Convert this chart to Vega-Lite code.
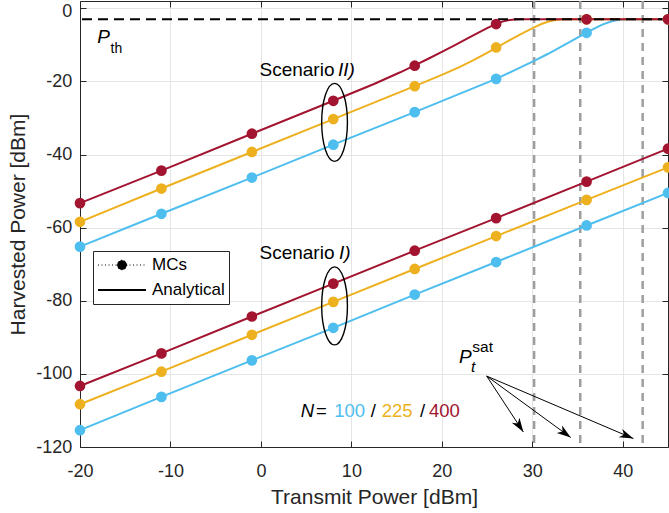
{
  "$schema": "https://vega.github.io/schema/vega-lite/v6.json",
  "width": 588,
  "height": 446,
  "autosize": {"type": "none"},
  "padding": {"left": 80, "top": 1, "right": 1, "bottom": 66},
  "background": "white",
  "config": {
    "font": "Liberation Sans",
    "view": {"stroke": null},
    "axis": {
      "domainColor": "#262626",
      "domainWidth": 1,
      "tickColor": "#262626",
      "tickSize": -6,
      "tickWidth": 1,
      "labelColor": "#262626",
      "labelFont": "Liberation Sans",
      "labelFontSize": 18,
      "labelFlush": false,
      "labelOverlap": false,
      "titleColor": "#262626",
      "titleFont": "Liberation Sans",
      "titleFontSize": 21,
      "titleFontWeight": "normal",
      "gridColor": "#e5e5e5",
      "gridWidth": 1
    }
  },
  "datasets": {
    "analytical": [
      {"scenario": "I", "N": 100, "pt": -20, "ph": -115.4}, {"scenario": "I", "N": 100, "pt": -11, "ph": -106.3},
      {"scenario": "I", "N": 100, "pt": -1, "ph": -96.3}, {"scenario": "I", "N": 100, "pt": 8, "ph": -87.4},
      {"scenario": "I", "N": 100, "pt": 17, "ph": -78.3}, {"scenario": "I", "N": 100, "pt": 26, "ph": -69.4},
      {"scenario": "I", "N": 100, "pt": 36, "ph": -59.4}, {"scenario": "I", "N": 100, "pt": 45, "ph": -50.5},
      {"scenario": "II", "N": 100, "pt": -20, "ph": -65.2}, {"scenario": "II", "N": 100, "pt": -11, "ph": -56.2},
      {"scenario": "II", "N": 100, "pt": -1, "ph": -46.3}, {"scenario": "II", "N": 100, "pt": 8, "ph": -37.3},
      {"scenario": "II", "N": 100, "pt": 17, "ph": -28.4}, {"scenario": "II", "N": 100, "pt": 26, "ph": -19.3},
      {"scenario": "II", "N": 100, "pt": 28, "ph": -17.0}, {"scenario": "II", "N": 100, "pt": 30.2, "ph": -14.4},
      {"scenario": "II", "N": 100, "pt": 31.7, "ph": -12.5}, {"scenario": "II", "N": 100, "pt": 33.4, "ph": -10.2},
      {"scenario": "II", "N": 100, "pt": 35, "ph": -8.0}, {"scenario": "II", "N": 100, "pt": 36, "ph": -6.65},
      {"scenario": "II", "N": 100, "pt": 37, "ph": -5.35}, {"scenario": "II", "N": 100, "pt": 37.8, "ph": -4.4},
      {"scenario": "II", "N": 100, "pt": 38.7, "ph": -3.6}, {"scenario": "II", "N": 100, "pt": 39.3, "ph": -3.25},
      {"scenario": "II", "N": 100, "pt": 40, "ph": -3.05}, {"scenario": "II", "N": 100, "pt": 40.7, "ph": -3.0},
      {"scenario": "II", "N": 100, "pt": 45, "ph": -3.0},
      {"scenario": "I", "N": 225, "pt": -20, "ph": -108.3}, {"scenario": "I", "N": 225, "pt": -11, "ph": -99.4},
      {"scenario": "I", "N": 225, "pt": -1, "ph": -89.3}, {"scenario": "I", "N": 225, "pt": 8, "ph": -80.3},
      {"scenario": "I", "N": 225, "pt": 17, "ph": -71.3}, {"scenario": "I", "N": 225, "pt": 26, "ph": -62.3},
      {"scenario": "I", "N": 225, "pt": 36, "ph": -52.4}, {"scenario": "I", "N": 225, "pt": 45, "ph": -43.5},
      {"scenario": "II", "N": 225, "pt": -20, "ph": -58.4}, {"scenario": "II", "N": 225, "pt": -11, "ph": -49.3},
      {"scenario": "II", "N": 225, "pt": -1, "ph": -39.3}, {"scenario": "II", "N": 225, "pt": 8, "ph": -30.3},
      {"scenario": "II", "N": 225, "pt": 17, "ph": -21.3}, {"scenario": "II", "N": 225, "pt": 20, "ph": -18.2},
      {"scenario": "II", "N": 225, "pt": 22, "ph": -16.0}, {"scenario": "II", "N": 225, "pt": 23.5, "ph": -14.2},
      {"scenario": "II", "N": 225, "pt": 25, "ph": -12.2}, {"scenario": "II", "N": 225, "pt": 26, "ph": -10.8},
      {"scenario": "II", "N": 225, "pt": 27.5, "ph": -8.7}, {"scenario": "II", "N": 225, "pt": 29, "ph": -6.7},
      {"scenario": "II", "N": 225, "pt": 30.2, "ph": -5.2}, {"scenario": "II", "N": 225, "pt": 31, "ph": -4.3},
      {"scenario": "II", "N": 225, "pt": 31.8, "ph": -3.6}, {"scenario": "II", "N": 225, "pt": 32.4, "ph": -3.25},
      {"scenario": "II", "N": 225, "pt": 33.1, "ph": -3.05}, {"scenario": "II", "N": 225, "pt": 33.8, "ph": -3.0},
      {"scenario": "II", "N": 225, "pt": 45, "ph": -3.0},
      {"scenario": "I", "N": 400, "pt": -20, "ph": -103.3}, {"scenario": "I", "N": 400, "pt": -11, "ph": -94.4},
      {"scenario": "I", "N": 400, "pt": -1, "ph": -84.3}, {"scenario": "I", "N": 400, "pt": 8, "ph": -75.3},
      {"scenario": "I", "N": 400, "pt": 17, "ph": -66.3}, {"scenario": "I", "N": 400, "pt": 26, "ph": -57.4},
      {"scenario": "I", "N": 400, "pt": 36, "ph": -47.4}, {"scenario": "I", "N": 400, "pt": 45, "ph": -38.4},
      {"scenario": "II", "N": 400, "pt": -20, "ph": -53.3}, {"scenario": "II", "N": 400, "pt": -11, "ph": -44.4},
      {"scenario": "II", "N": 400, "pt": -1, "ph": -34.3}, {"scenario": "II", "N": 400, "pt": 8, "ph": -25.3},
      {"scenario": "II", "N": 400, "pt": 12.5, "ph": -20.7}, {"scenario": "II", "N": 400, "pt": 15.4, "ph": -17.5},
      {"scenario": "II", "N": 400, "pt": 17, "ph": -15.6}, {"scenario": "II", "N": 400, "pt": 18.5, "ph": -13.8},
      {"scenario": "II", "N": 400, "pt": 20, "ph": -11.9}, {"scenario": "II", "N": 400, "pt": 21.5, "ph": -10.0},
      {"scenario": "II", "N": 400, "pt": 23, "ph": -8.0}, {"scenario": "II", "N": 400, "pt": 24, "ph": -6.7},
      {"scenario": "II", "N": 400, "pt": 25, "ph": -5.4}, {"scenario": "II", "N": 400, "pt": 26, "ph": -4.3},
      {"scenario": "II", "N": 400, "pt": 26.7, "ph": -3.65}, {"scenario": "II", "N": 400, "pt": 27.3, "ph": -3.25},
      {"scenario": "II", "N": 400, "pt": 28, "ph": -3.05}, {"scenario": "II", "N": 400, "pt": 28.7, "ph": -3.0},
      {"scenario": "II", "N": 400, "pt": 45, "ph": -3.0}
    ],
    "mc": [
      {"scenario": "I", "N": 100, "pt": -20, "ph": -115.4}, {"scenario": "I", "N": 100, "pt": -11, "ph": -106.3},
      {"scenario": "I", "N": 100, "pt": -1, "ph": -96.3}, {"scenario": "I", "N": 100, "pt": 8, "ph": -87.4},
      {"scenario": "I", "N": 100, "pt": 17, "ph": -78.3}, {"scenario": "I", "N": 100, "pt": 26, "ph": -69.4},
      {"scenario": "I", "N": 100, "pt": 36, "ph": -59.4}, {"scenario": "I", "N": 100, "pt": 45, "ph": -50.5},
      {"scenario": "II", "N": 100, "pt": -20, "ph": -65.2}, {"scenario": "II", "N": 100, "pt": -11, "ph": -56.2},
      {"scenario": "II", "N": 100, "pt": -1, "ph": -46.3}, {"scenario": "II", "N": 100, "pt": 8, "ph": -37.3},
      {"scenario": "II", "N": 100, "pt": 17, "ph": -28.4}, {"scenario": "II", "N": 100, "pt": 26, "ph": -19.3},
      {"scenario": "II", "N": 100, "pt": 36, "ph": -6.7}, {"scenario": "II", "N": 100, "pt": 45, "ph": -3.0},
      {"scenario": "I", "N": 225, "pt": -20, "ph": -108.3}, {"scenario": "I", "N": 225, "pt": -11, "ph": -99.4},
      {"scenario": "I", "N": 225, "pt": -1, "ph": -89.3}, {"scenario": "I", "N": 225, "pt": 8, "ph": -80.3},
      {"scenario": "I", "N": 225, "pt": 17, "ph": -71.3}, {"scenario": "I", "N": 225, "pt": 26, "ph": -62.3},
      {"scenario": "I", "N": 225, "pt": 36, "ph": -52.4}, {"scenario": "I", "N": 225, "pt": 45, "ph": -43.5},
      {"scenario": "II", "N": 225, "pt": -20, "ph": -58.4}, {"scenario": "II", "N": 225, "pt": -11, "ph": -49.3},
      {"scenario": "II", "N": 225, "pt": -1, "ph": -39.3}, {"scenario": "II", "N": 225, "pt": 8, "ph": -30.3},
      {"scenario": "II", "N": 225, "pt": 17, "ph": -21.3}, {"scenario": "II", "N": 225, "pt": 26, "ph": -10.7},
      {"scenario": "II", "N": 225, "pt": 36, "ph": -3.0}, {"scenario": "II", "N": 225, "pt": 45, "ph": -3.0},
      {"scenario": "I", "N": 400, "pt": -20, "ph": -103.3}, {"scenario": "I", "N": 400, "pt": -11, "ph": -94.4},
      {"scenario": "I", "N": 400, "pt": -1, "ph": -84.3}, {"scenario": "I", "N": 400, "pt": 8, "ph": -75.3},
      {"scenario": "I", "N": 400, "pt": 17, "ph": -66.3}, {"scenario": "I", "N": 400, "pt": 26, "ph": -57.4},
      {"scenario": "I", "N": 400, "pt": 36, "ph": -47.4}, {"scenario": "I", "N": 400, "pt": 45, "ph": -38.4},
      {"scenario": "II", "N": 400, "pt": -20, "ph": -53.3}, {"scenario": "II", "N": 400, "pt": -11, "ph": -44.4},
      {"scenario": "II", "N": 400, "pt": -1, "ph": -34.3}, {"scenario": "II", "N": 400, "pt": 8, "ph": -25.3},
      {"scenario": "II", "N": 400, "pt": 17, "ph": -15.7}, {"scenario": "II", "N": 400, "pt": 26, "ph": -4.3},
      {"scenario": "II", "N": 400, "pt": 36, "ph": -3.0}, {"scenario": "II", "N": 400, "pt": 45, "ph": -3.0}
    ],
    "psat": [
      {"N": 400, "psat": 30.2},
      {"N": 225, "psat": 35.3},
      {"N": 100, "psat": 42.2}
    ],
    "legendKinds": [
      {"kind": "MCs"},
      {"kind": "Analytical"}
    ]
  },
  "resolve": {"axis": {"x": "independent", "y": "independent"}},
  "layer": [
    {
      "data": {"name": "psat"},
      "mark": {"type": "rule", "color": "#9e9e9e", "strokeWidth": 2.5, "strokeDash": [8, 6]},
      "encoding": {"x": {"field": "psat", "type": "quantitative", "axis": null}}
    },
    {
      "data": {"name": "analytical"},
      "mark": {"type": "line", "strokeWidth": 2},
      "encoding": {
        "x": {
          "field": "pt", "type": "quantitative",
          "scale": {"domain": [-20, 45], "nice": false, "zero": false},
          "axis": {"orient": "bottom", "values": [-20, -10, 0, 10, 20, 30, 40], "grid": true,
                   "title": "Transmit Power [dBm]", "labelPadding": 21.5, "titlePadding": 6,
                   "labelExpr": "'' + datum.value"}
        },
        "y": {
          "field": "ph", "type": "quantitative",
          "scale": {"domain": [-120, 2], "nice": false, "zero": false},
          "axis": {"orient": "left", "values": [-120, -100, -80, -60, -40, -20, 0], "grid": true,
                   "title": "Harvested Power [dBm]", "labelPadding": 14.3, "titlePadding": 7,
                   "labelExpr": "'' + datum.value",
                   "labelOffset": {"expr": "datum.value === 0 ? 3 : 0"}}
        },
        "color": {
          "field": "N", "type": "nominal",
          "scale": {"domain": [100, 225, 400], "range": ["#4DBEEE", "#EDB120", "#A2142F"]},
          "legend": null
        },
        "detail": {"field": "scenario", "type": "nominal"}
      }
    },
    {
      "data": {"values": [{}]},
      "mark": {"type": "rule", "color": "#000000", "strokeWidth": 2, "strokeDash": [10, 6]},
      "encoding": {"y": {"datum": -3, "type": "quantitative", "axis": null}}
    },
    {
      "data": {"name": "mc"},
      "mark": {"type": "point", "filled": true, "size": 115, "opacity": 1},
      "encoding": {
        "x": {"field": "pt", "type": "quantitative",
              "axis": {"orient": "top", "values": [-20, -10, 0, 10, 20, 30, 40], "labels": false, "grid": false, "title": null}},
        "y": {"field": "ph", "type": "quantitative",
              "axis": {"orient": "right", "values": [-120, -100, -80, -60, -40, -20, 0], "labels": false, "grid": false, "title": null}},
        "color": {"field": "N", "type": "nominal", "legend": null}
      }
    },
    {
      "data": {"values": [{}]},
      "mark": {"type": "point", "shape": "M0,-1A0.33,1,0,1,1,0,1A0.33,1,0,1,1,0,-1Z", "size": 6084, "filled": false, "color": "#000000", "strokeWidth": 1.4, "opacity": 1},
      "encoding": {"x": {"datum": 8.14, "type": "quantitative", "axis": null}, "y": {"datum": -31.2, "type": "quantitative", "axis": null}}
    },
    {
      "data": {"values": [{}]},
      "mark": {"type": "point", "shape": "M0,-1A0.33,1,0,1,1,0,1A0.33,1,0,1,1,0,-1Z", "size": 6084, "filled": false, "color": "#000000", "strokeWidth": 1.4, "opacity": 1},
      "encoding": {"x": {"datum": 8.14, "type": "quantitative", "axis": null}, "y": {"datum": -81.4, "type": "quantitative", "axis": null}}
    },
    {
      "data": {"values": [{}]},
      "mark": {"type": "text", "text": "P", "fontStyle": "italic", "fontSize": 19, "align": "left", "baseline": "alphabetic", "color": "#000000"},
      "encoding": {"x": {"datum": -18.09, "type": "quantitative", "axis": null}, "y": {"datum": -9.5, "type": "quantitative", "axis": null}}
    },
    {
      "data": {"values": [{}]},
      "mark": {"type": "text", "text": "th", "fontSize": 14, "align": "left", "baseline": "alphabetic", "color": "#000000"},
      "encoding": {"x": {"datum": -16.63, "type": "quantitative", "axis": null}, "y": {"datum": -12.2, "type": "quantitative", "axis": null}}
    },
    {
      "data": {"values": [{}]},
      "mark": {"type": "text", "text": "Scenario", "fontSize": 19, "align": "left", "baseline": "alphabetic", "color": "#000000"},
      "encoding": {"x": {"datum": -0.16, "type": "quantitative", "axis": null}, "y": {"datum": -18.4, "type": "quantitative", "axis": null}}
    },
    {
      "data": {"values": [{}]},
      "mark": {"type": "text", "text": "II)", "fontStyle": "italic", "fontSize": 19, "align": "left", "baseline": "alphabetic", "color": "#000000"},
      "encoding": {"x": {"datum": 8.52, "type": "quantitative", "axis": null}, "y": {"datum": -18.4, "type": "quantitative", "axis": null}}
    },
    {
      "data": {"values": [{}]},
      "mark": {"type": "text", "text": "Scenario", "fontSize": 19, "align": "left", "baseline": "alphabetic", "color": "#000000"},
      "encoding": {"x": {"datum": -0.16, "type": "quantitative", "axis": null}, "y": {"datum": -68.6, "type": "quantitative", "axis": null}}
    },
    {
      "data": {"values": [{}]},
      "mark": {"type": "text", "text": "I)", "fontStyle": "italic", "fontSize": 19, "align": "left", "baseline": "alphabetic", "color": "#000000"},
      "encoding": {"x": {"datum": 8.63, "type": "quantitative", "axis": null}, "y": {"datum": -68.6, "type": "quantitative", "axis": null}}
    },
    {
      "data": {"values": [{}]},
      "mark": {"type": "text", "text": "N", "fontStyle": "italic", "fontSize": 18.5, "align": "left", "baseline": "alphabetic", "color": "#000000"},
      "encoding": {"x": {"datum": 4.39, "type": "quantitative", "axis": null}, "y": {"datum": -111.8, "type": "quantitative", "axis": null}}
    },
    {
      "data": {"values": [{}]},
      "mark": {"type": "text", "text": "=", "fontSize": 18.5, "align": "left", "baseline": "alphabetic", "color": "#000000"},
      "encoding": {"x": {"datum": 6.1, "type": "quantitative", "axis": null}, "y": {"datum": -111.8, "type": "quantitative", "axis": null}}
    },
    {
      "data": {"values": [{}]},
      "mark": {"type": "text", "text": "100", "fontSize": 18.5, "align": "left", "baseline": "alphabetic", "color": "#4DBEEE"},
      "encoding": {"x": {"datum": 8.11, "type": "quantitative", "axis": null}, "y": {"datum": -111.8, "type": "quantitative", "axis": null}}
    },
    {
      "data": {"values": [{}]},
      "mark": {"type": "text", "text": "/", "fontSize": 18.5, "align": "left", "baseline": "alphabetic", "color": "#000000"},
      "encoding": {"x": {"datum": 12.14, "type": "quantitative", "axis": null}, "y": {"datum": -111.8, "type": "quantitative", "axis": null}}
    },
    {
      "data": {"values": [{}]},
      "mark": {"type": "text", "text": "225", "fontSize": 18.5, "align": "left", "baseline": "alphabetic", "color": "#EDB120"},
      "encoding": {"x": {"datum": 13.35, "type": "quantitative", "axis": null}, "y": {"datum": -111.8, "type": "quantitative", "axis": null}}
    },
    {
      "data": {"values": [{}]},
      "mark": {"type": "text", "text": "/", "fontSize": 18.5, "align": "left", "baseline": "alphabetic", "color": "#000000"},
      "encoding": {"x": {"datum": 17.59, "type": "quantitative", "axis": null}, "y": {"datum": -111.8, "type": "quantitative", "axis": null}}
    },
    {
      "data": {"values": [{}]},
      "mark": {"type": "text", "text": "400", "fontSize": 18.5, "align": "left", "baseline": "alphabetic", "color": "#A2142F"},
      "encoding": {"x": {"datum": 18.58, "type": "quantitative", "axis": null}, "y": {"datum": -111.8, "type": "quantitative", "axis": null}}
    },
    {
      "data": {"values": [{}]},
      "mark": {"type": "text", "text": "P", "fontStyle": "italic", "fontSize": 19, "align": "left", "baseline": "alphabetic", "color": "#000000"},
      "encoding": {"x": {"datum": 21.9, "type": "quantitative", "axis": null}, "y": {"datum": -97.15, "type": "quantitative", "axis": null}}
    },
    {
      "data": {"values": [{}]},
      "mark": {"type": "text", "text": "sat", "fontSize": 15.5, "align": "left", "baseline": "alphabetic", "color": "#000000"},
      "encoding": {"x": {"datum": 23.37, "type": "quantitative", "axis": null}, "y": {"datum": -94.0, "type": "quantitative", "axis": null}}
    },
    {
      "data": {"values": [{}]},
      "mark": {"type": "text", "text": "t", "fontStyle": "italic", "fontSize": 15.5, "align": "left", "baseline": "alphabetic", "color": "#000000"},
      "encoding": {"x": {"datum": 23.23, "type": "quantitative", "axis": null}, "y": {"datum": -99.45, "type": "quantitative", "axis": null}}
    },
    {
      "data": {"values": [{}]},
      "mark": {"type": "rule", "color": "#000000", "strokeWidth": 1},
      "encoding": {"x": {"datum": 24.96, "type": "quantitative", "axis": null}, "y": {"datum": -100.6, "type": "quantitative", "axis": null},
                   "x2": {"datum": 29.01}, "y2": {"datum": -115.9}}
    },
    {
      "data": {"values": [{}]},
      "mark": {"type": "rule", "color": "#000000", "strokeWidth": 1},
      "encoding": {"x": {"datum": 24.96, "type": "quantitative", "axis": null}, "y": {"datum": -100.6, "type": "quantitative", "axis": null},
                   "x2": {"datum": 34.25}, "y2": {"datum": -117.4}}
    },
    {
      "data": {"values": [{}]},
      "mark": {"type": "rule", "color": "#000000", "strokeWidth": 1},
      "encoding": {"x": {"datum": 24.96, "type": "quantitative", "axis": null}, "y": {"datum": -100.6, "type": "quantitative", "axis": null},
                   "x2": {"datum": 41.17}, "y2": {"datum": -117.7}}
    },
    {
      "data": {"values": [{}]},
      "mark": {"type": "point", "shape": "M0,0L0.65,2L0,1.45L-0.65,2Z", "size": 196, "filled": true, "color": "#000000", "angle": 146.7, "opacity": 1},
      "encoding": {"x": {"datum": 29.01, "type": "quantitative", "axis": null}, "y": {"datum": -115.9, "type": "quantitative", "axis": null}}
    },
    {
      "data": {"values": [{}]},
      "mark": {"type": "point", "shape": "M0,0L0.65,2L0,1.45L-0.65,2Z", "size": 196, "filled": true, "color": "#000000", "angle": 126.1, "opacity": 1},
      "encoding": {"x": {"datum": 34.25, "type": "quantitative", "axis": null}, "y": {"datum": -117.4, "type": "quantitative", "axis": null}}
    },
    {
      "data": {"values": [{}]},
      "mark": {"type": "point", "shape": "M0,0L0.65,2L0,1.45L-0.65,2Z", "size": 196, "filled": true, "color": "#000000", "angle": 113.0, "opacity": 1},
      "encoding": {"x": {"datum": 41.17, "type": "quantitative", "axis": null}, "y": {"datum": -117.7, "type": "quantitative", "axis": null}}
    },
    {
      "data": {"name": "legendKinds"},
      "mark": {"type": "point", "opacity": 0},
      "encoding": {
        "shape": {
          "field": "kind", "type": "nominal",
          "scale": {"domain": ["MCs", "Analytical"],
                    "range": ["M-1,0L1,0M0.2,0A0.2,0.2,0,1,1,-0.2,0A0.2,0.2,0,1,1,0.2,0Z", "M-1,0L1,0"]},
          "legend": {
            "title": null,
            "orient": "none",
            "legendX": 13,
            "legendY": 250,
            "symbolSize": 2304,
            "clipHeight": 20,
            "rowPadding": 5,
            "padding": 4,
            "labelOffset": 5,
            "labelFont": "Liberation Sans",
            "labelFontSize": 17,
            "labelColor": "#000000",
            "strokeColor": "#262626",
            "fillColor": "#ffffff",
            "symbolOpacity": 1
          }
        },
        "fill": {
          "field": "kind", "type": "nominal",
          "scale": {"domain": ["MCs", "Analytical"], "range": ["#000000", "transparent"]}
        },
        "stroke": {
          "field": "kind", "type": "nominal",
          "scale": {"domain": ["MCs", "Analytical"], "range": ["#000000", "#000000"]}
        },
        "strokeDash": {
          "field": "kind", "type": "nominal",
          "scale": {"domain": ["MCs", "Analytical"], "range": [[1, 2.5], [1, 0]]}
        },
        "strokeWidth": {
          "field": "kind", "type": "nominal",
          "scale": {"type": "ordinal", "domain": ["MCs", "Analytical"], "range": [1, 2]}
        }
      }
    }
  ]
}
